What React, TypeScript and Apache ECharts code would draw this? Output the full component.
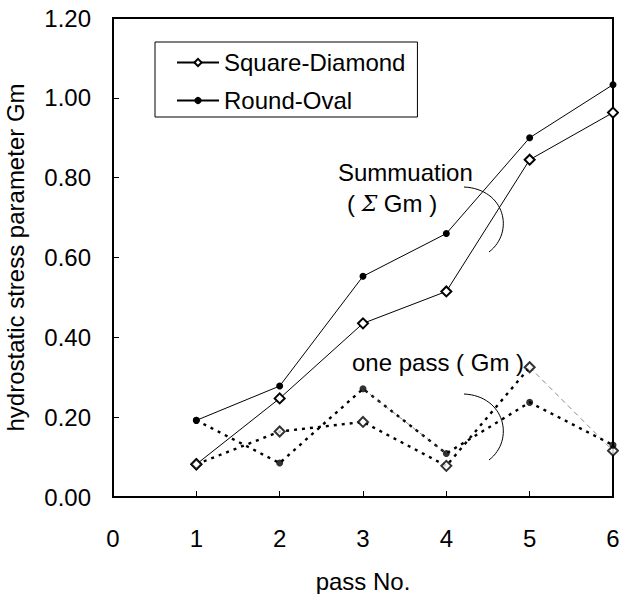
import { useEffect, useRef } from 'react';
import * as echarts from 'echarts';

const passes = [1, 2, 3, 4, 5, 6];
const squareDiamondSum = [0.082, 0.247, 0.435, 0.515, 0.845, 0.963];
const roundOvalSum = [0.192, 0.278, 0.553, 0.66, 0.9, 1.033];
const squareDiamondOne = [0.082, 0.164, 0.188, 0.078, 0.325, 0.116];
const roundOvalOne = [0.192, 0.085, 0.271, 0.109, 0.237, 0.13];
const legendNames = ['Square-Diamond', 'Round-Oval'];
const xAxisName = 'pass No.';
const yAxisName = 'hydrostatic stress parameter Gm';
const sumLabel1 = 'Summuation';
const sumLabel2 = '( {s|Σ} Gm )';
const onePassLabel = 'one pass ( Gm )';

const FONT = '"Liberation Sans", Arial, Helvetica, sans-serif';
const FS = 24;

const pairs = (ys: number[], a: number, b: number) =>
  passes.slice(a, b + 1).map((x, i) => [x, ys[a + i]]);

export default function App() {
  const ref = useRef<HTMLDivElement>(null);
  useEffect(() => {
    if (!ref.current) return;
    const chart = echarts.init(ref.current, null, { renderer: 'svg' });
    const thick = { color: '#000', width: 2.4, type: [3, 5] as any };
    const thin = { color: '#555', width: 0.7, type: [5, 4] as any };
    chart.setOption({
      animation: false,
      backgroundColor: '#fff',
      textStyle: { fontFamily: FONT },
      grid: {
        left: 113,
        right: 6,
        top: 18,
        bottom: 97,
        outerBoundsMode: 'none',
        containLabel: false,
        show: true,
        borderColor: '#000',
        borderWidth: 2,
        backgroundColor: 'transparent',
      },
      legend: {
        data: legendNames,
        orient: 'vertical',
        left: 155,
        top: 42,
        padding: [8, 12, 4, 21],
        itemWidth: 42,
        itemHeight: 9,
        itemGap: 13,
        borderColor: '#000',
        borderWidth: 1,
        backgroundColor: '#fff',
        textStyle: { fontSize: FS, lineHeight: 25, color: '#000', fontFamily: FONT },
      },
      xAxis: {
        type: 'value',
        min: 0,
        max: 6,
        interval: 1,
        name: xAxisName,
        nameLocation: 'middle',
        nameGap: 72,
        nameTextStyle: { fontSize: FS, color: '#000', fontFamily: FONT },
        axisLine: { lineStyle: { color: '#000', width: 2 } },
        axisTick: { inside: true, length: 6, lineStyle: { color: '#000', width: 1 } },
        axisLabel: { fontSize: FS, color: '#000', margin: 29, fontFamily: FONT },
        splitLine: { show: false },
      },
      yAxis: {
        type: 'value',
        min: 0,
        max: 1.2,
        interval: 0.2,
        name: yAxisName,
        nameLocation: 'middle',
        nameGap: 86,
        nameTextStyle: { fontSize: FS, color: '#000', fontFamily: FONT },
        axisLine: { show: true, lineStyle: { color: '#000', width: 2 } },
        axisTick: { show: true, inside: true, length: 6, lineStyle: { color: '#000', width: 1 } },
        axisLabel: {
          fontSize: FS,
          color: '#000',
          margin: 22,
          fontFamily: FONT,
          formatter: (v: number) => v.toFixed(2),
        },
        splitLine: { show: false },
      },
      series: [
        {
          name: 'one pass SD thick',
          type: 'line',
          data: pairs(squareDiamondOne, 0, 4),
          symbol: 'none',
          lineStyle: thick,
          z: 1,
          clip: false,
        },
        {
          name: 'one pass SD thin',
          type: 'line',
          data: pairs(squareDiamondOne, 4, 5),
          symbol: 'none',
          lineStyle: thin,
          z: 1,
          clip: false,
        },
        {
          name: 'one pass RO thick',
          type: 'line',
          data: pairs(roundOvalOne, 0, 5),
          symbol: 'none',
          lineStyle: thick,
          z: 1,
          clip: false,
        },
        {
          name: 'one pass RO thin',
          type: 'line',
          data: pairs(roundOvalOne, 2, 3),
          symbol: 'none',
          lineStyle: thin,
          z: 1,
          clip: false,
        },
        {
          name: legendNames[0],
          type: 'line',
          data: pairs(squareDiamondSum, 0, 5),
          symbol: 'emptyDiamond',
          symbolSize: 10,
          lineStyle: { color: '#000', width: 1 },
          itemStyle: { color: '#000', borderColor: '#000', borderWidth: 1 },
          z: 3,
          clip: false,
        },
        {
          name: legendNames[1],
          type: 'line',
          data: pairs(roundOvalSum, 0, 5),
          symbol: 'circle',
          symbolSize: 7,
          lineStyle: { color: '#000', width: 1 },
          itemStyle: { color: '#000' },
          z: 3,
          clip: false,
        },
        {
          name: 'one pass SD marks',
          type: 'scatter',
          data: pairs(squareDiamondOne, 0, 5),
          symbol: 'emptyDiamond',
          symbolSize: 10,
          itemStyle: { color: '#000', borderColor: '#000', borderWidth: 1 },
          z: 4,
          clip: false,
        },
        {
          name: 'one pass RO marks',
          type: 'scatter',
          data: pairs(roundOvalOne, 0, 5),
          symbol: 'circle',
          symbolSize: 7,
          itemStyle: { color: '#000' },
          z: 4,
          clip: false,
        },
      ],
      graphic: [
        {
          type: 'text',
          x: 338,
          y: 172,
          style: { text: sumLabel1, fontSize: FS, fontFamily: FONT, fill: '#000', verticalAlign: 'middle' },
        },
        {
          type: 'text',
          x: 347,
          y: 203,
          style: {
            text: sumLabel2,
            fontSize: FS,
            fontFamily: FONT,
            fill: '#000',
            verticalAlign: 'middle',
            rich: { s: { fontSize: 22, fontStyle: 'italic', fontFamily: '"DejaVu Serif", serif', fill: '#000' } },
          },
        },
        {
          type: 'text',
          x: 352,
          y: 362,
          style: { text: onePassLabel, fontSize: FS, fontFamily: FONT, fill: '#000', verticalAlign: 'middle' },
        },
        {
          type: 'bezierCurve',
          shape: { x1: 464, y1: 187, cpx1: 505, cpy1: 189, cpx2: 515, cpy2: 232, x2: 489, y2: 252 },
          style: { stroke: '#000', fill: 'none', lineWidth: 1 },
        },
        {
          type: 'bezierCurve',
          shape: { x1: 464, y1: 394, cpx1: 505, cpy1: 396, cpx2: 515, cpy2: 440, x2: 489, y2: 460 },
          style: { stroke: '#000', fill: 'none', lineWidth: 1 },
        },
      ],
    });
    return () => chart.dispose();
  }, []);
  return (
    <div
      ref={ref}
      style={{ position: 'fixed', left: 0, top: 0, width: 619, height: 594, background: '#fff' }}
    />
  );
}
